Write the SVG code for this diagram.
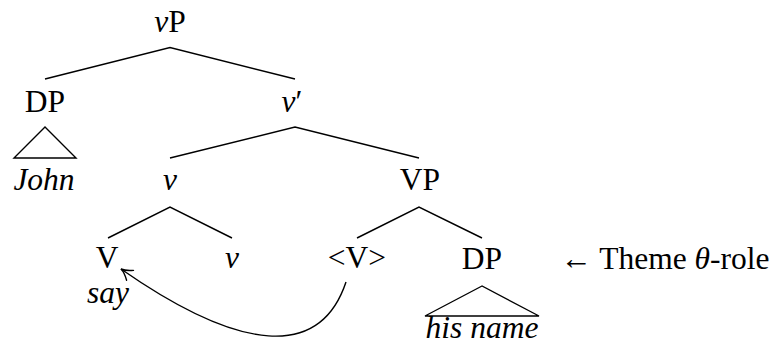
<svg xmlns="http://www.w3.org/2000/svg" width="779" height="351" viewBox="0 0 779 351">
<style>
.t{font-family:'Liberation Serif','Times New Roman',Times,serif;font-size:31.5px;fill:#000;text-anchor:middle}
.i{font-style:italic}
.e{stroke:#000;stroke-width:1.4;fill:none}
</style>
<defs>
<marker id="ah" viewBox="-12 -7 14 14" refX="0" refY="0" markerWidth="14" markerHeight="14" markerUnits="userSpaceOnUse" orient="auto">
<path d="M-11,-6 Q-5,-1 0,0 Q-5,1 -11,6" fill="none" stroke="#000" stroke-width="1.4" stroke-linecap="round"/>
</marker>
</defs>
<rect width="779" height="351" fill="#fff"/>
<g id="connectors">
<path class="e" d="M45,79 L170,47.5 L295,79"/>
<path class="e" d="M170,158 L295,127 L419,158"/>
<path class="e" d="M108,238 L170,207 L232,238"/>
<path class="e" d="M357,238 L419,207 L482,238"/>
<path class="e" d="M45,127 L14,158 L76,158 Z"/>
<path class="e" d="M482,286 L425,316 L539,316 Z"/>
<path class="e" d="M346,282 C320,360 240,352 121,269" marker-end="url(#ah)"/>
</g>
<g id="vP"><text class="t" x="170" y="32"><tspan class="i">v</tspan>P</text></g>
<g id="DP1"><text class="t" x="45" y="112">DP</text></g>
<g id="John"><text class="t i" x="44" y="190">John</text></g>
<g id="vbar"><text class="t" x="292" y="112"><tspan class="i">v</tspan>′</text></g>
<g id="v"><text class="t i" x="170" y="190">v</text></g>
<g id="VP"><text class="t" x="420" y="190">VP</text></g>
<g id="V"><text class="t" x="107" y="268">V</text></g>
<g id="say"><text class="t i" x="108" y="303">say</text></g>
<g id="v2"><text class="t i" x="232" y="268">v</text></g>
<g id="Vtrace"><text class="t" x="357" y="268">&lt;V&gt;</text></g>
<g id="DP2"><text class="t" x="482" y="269">DP</text></g>
<g id="hisname"><text class="t i" x="482" y="338">his name</text></g>
<g id="theme"><text class="t" x="665" y="269">← Theme <tspan class="i">θ</tspan>-role</text></g>
</svg>
